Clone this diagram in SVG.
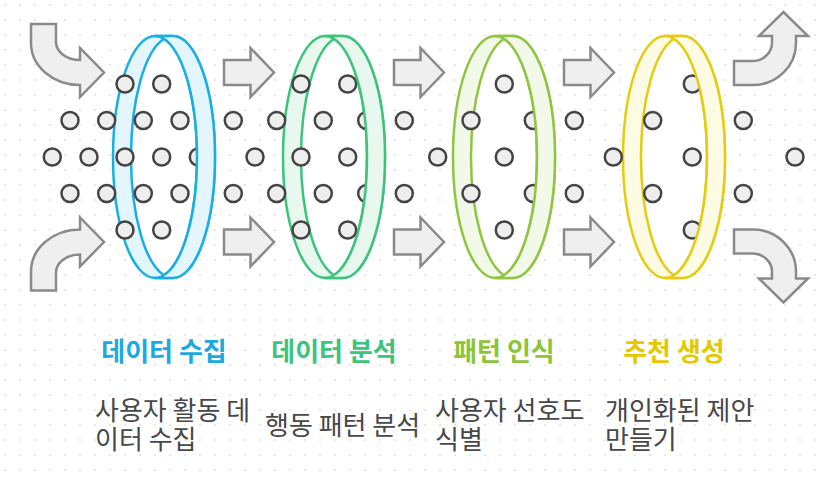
<svg xmlns="http://www.w3.org/2000/svg" xmlns:xlink="http://www.w3.org/1999/xlink" width="820" height="478" viewBox="0 0 820 478">
<style>
.dot{fill:#eeeeee;stroke:#444444;stroke-width:2.5}
.arr{fill:#efefef;stroke:#8a8a8a;stroke-width:2.5;stroke-linejoin:miter}
.title{font-family:"Noto Sans CJK KR","Noto Sans",sans-serif;font-weight:bold;font-size:26px;text-anchor:middle}
.body{font-family:"Noto Sans CJK KR","Noto Sans",sans-serif;font-size:26px;fill:#484848}
.r{stroke-width:2.5;stroke-linejoin:round}
.c1{stroke:#1aafe3}.f1{fill:#e3f6fd}
.c2{stroke:#3cc47c}.f2{fill:#e8f8ef}
.c3{stroke:#8ec63f}.f3{fill:#f3f9e8}
.c4{stroke:#e5cc10}.f4{fill:#fdfbe3}
</style>
<defs>
<pattern id="grid" width="15" height="15" patternUnits="userSpaceOnUse">
<circle cx="5" cy="5" r="1.1" fill="#e2e2e2"/>
</pattern>
<path id="sa" d="M0 -12.5 L26.5 -12.5 L26.5 -24.5 L50 0 L26.5 24.5 L26.5 12.5 L0 12.5 Z"/>
</defs>
<rect width="820" height="478" fill="#ffffff"/>
<rect width="820" height="478" fill="url(#grid)"/>

<g id="connectors">
<path class="arr" d="M31 24 L31 43 A49 42 0 0 0 80 85 L80 97 L104 72.5 L80 48 L80 60 A24 18 0 0 1 56 42 L56 24 Z"/>
<path class="arr" transform="translate(0,314.5) scale(1,-1)" d="M31 24 L31 43 A49 42 0 0 0 80 85 L80 97 L104 72.5 L80 48 L80 60 A24 18 0 0 1 56 42 L56 24 Z"/>
<use href="#sa" class="arr" x="224" y="72.5"/>
<use href="#sa" class="arr" x="394" y="72.5"/>
<use href="#sa" class="arr" x="564" y="72.5"/>
<use href="#sa" class="arr" x="224" y="242"/>
<use href="#sa" class="arr" x="394" y="242"/>
<use href="#sa" class="arr" x="564" y="242"/>
<path class="arr" d="M734 61 L752 61 A20 18 0 0 0 772 43 L772 36 L759 36 L783.5 12 L808 36 L796 36 L796 43 A43 42 0 0 1 753 85 L734 85 Z"/>
<path class="arr" transform="translate(0,314.5) scale(1,-1)" d="M734 61 L752 61 A20 18 0 0 0 772 43 L772 36 L759 36 L783.5 12 L808 36 L796 36 L796 43 A43 42 0 0 1 753 85 L734 85 Z"/>
</g>

<g id="ring-back">
<g class="r c1">
<path class="f1" d="M155 36 A42 121 0 0 0 155 278 L173 278 A42 121 0 0 0 173 36 Z"/>
<path fill="#ffffff" d="M164 38.8 A42 121 0 0 0 164 275.2 A42 121 0 0 0 164 38.8 Z"/>
</g>
<g class="r c2">
<path class="f2" d="M325 36 A42 121 0 0 0 325 278 L343 278 A42 121 0 0 0 343 36 Z"/>
<path fill="#ffffff" d="M334 38.8 A42 121 0 0 0 334 275.2 A42 121 0 0 0 334 38.8 Z"/>
</g>
<g class="r c3">
<path class="f3" d="M495 36 A42 121 0 0 0 495 278 L513 278 A42 121 0 0 0 513 36 Z"/>
<path fill="#ffffff" d="M504 38.8 A42 121 0 0 0 504 275.2 A42 121 0 0 0 504 38.8 Z"/>
</g>
<g class="r c4">
<path class="f4" d="M665 36 A42 121 0 0 0 665 278 L683 278 A42 121 0 0 0 683 36 Z"/>
<path fill="#ffffff" d="M674 38.8 A42 121 0 0 0 674 275.2 A42 121 0 0 0 674 38.8 Z"/>
</g>
</g>

<g id="particles">
<circle class="dot" cx="125" cy="84" r="8.5"/>
<circle class="dot" cx="161.7" cy="84" r="8.5"/>
<circle class="dot" cx="70" cy="120.5" r="8.5"/>
<circle class="dot" cx="106.7" cy="120.5" r="8.5"/>
<circle class="dot" cx="143.3" cy="120.5" r="8.5"/>
<circle class="dot" cx="180" cy="120.5" r="8.5"/>
<circle class="dot" cx="233.3" cy="120.5" r="8.5"/>
<circle class="dot" cx="52.3" cy="157" r="8.5"/>
<circle class="dot" cx="89" cy="157" r="8.5"/>
<circle class="dot" cx="125" cy="157" r="8.5"/>
<circle class="dot" cx="161.7" cy="157" r="8.5"/>
<circle class="dot" cx="198.3" cy="157" r="8.5"/>
<circle class="dot" cx="70" cy="193.5" r="8.5"/>
<circle class="dot" cx="106.7" cy="193.5" r="8.5"/>
<circle class="dot" cx="143.3" cy="193.5" r="8.5"/>
<circle class="dot" cx="180" cy="193.5" r="8.5"/>
<circle class="dot" cx="233.3" cy="193.5" r="8.5"/>
<circle class="dot" cx="125" cy="230" r="8.5"/>
<circle class="dot" cx="161.7" cy="230" r="8.5"/>

<circle class="dot" cx="301" cy="84" r="8.5"/>
<circle class="dot" cx="347.7" cy="84" r="8.5"/>
<circle class="dot" cx="276.7" cy="120.5" r="8.5"/>
<circle class="dot" cx="323.3" cy="120.5" r="8.5"/>
<circle class="dot" cx="366.7" cy="120.5" r="8.5"/>
<circle class="dot" cx="404.3" cy="120.5" r="8.5"/>
<circle class="dot" cx="255" cy="157" r="8.5"/>
<circle class="dot" cx="301" cy="157" r="8.5"/>
<circle class="dot" cx="347.7" cy="157" r="8.5"/>
<circle class="dot" cx="276.7" cy="193.5" r="8.5"/>
<circle class="dot" cx="323.3" cy="193.5" r="8.5"/>
<circle class="dot" cx="366.7" cy="193.5" r="8.5"/>
<circle class="dot" cx="404.3" cy="193.5" r="8.5"/>
<circle class="dot" cx="301" cy="230" r="8.5"/>
<circle class="dot" cx="347.7" cy="230" r="8.5"/>

<circle class="dot" cx="504.3" cy="84" r="8.5"/>
<circle class="dot" cx="471" cy="120.5" r="8.5"/>
<circle class="dot" cx="533.3" cy="120.5" r="8.5"/>
<circle class="dot" cx="574.3" cy="120.5" r="8.5"/>
<circle class="dot" cx="437.7" cy="157" r="8.5"/>
<circle class="dot" cx="504.3" cy="157" r="8.5"/>
<circle class="dot" cx="471" cy="193.5" r="8.5"/>
<circle class="dot" cx="533.3" cy="193.5" r="8.5"/>
<circle class="dot" cx="574.3" cy="193.5" r="8.5"/>
<circle class="dot" cx="504.3" cy="230" r="8.5"/>

<circle class="dot" cx="692.3" cy="84" r="8.5"/>
<circle class="dot" cx="652.7" cy="120.5" r="8.5"/>
<circle class="dot" cx="743.3" cy="120.5" r="8.5"/>
<circle class="dot" cx="613.3" cy="157" r="8.5"/>
<circle class="dot" cx="692.3" cy="157" r="8.5"/>
<circle class="dot" cx="795" cy="157" r="8.5"/>
<circle class="dot" cx="652.7" cy="193.5" r="8.5"/>
<circle class="dot" cx="743.3" cy="193.5" r="8.5"/>
<circle class="dot" cx="692.3" cy="230" r="8.5"/>
</g>

<g id="node-collect">
<path class="r c1 f1" d="M155 36 L173 36 A42 121 0 0 1 173 278 L155 278 A42 121 0 0 0 155 36 Z"/>
<text class="title" x="164" y="361" fill="#1ba9e1">데이터 수집</text>
<text class="body" x="95" y="420"><tspan x="95" y="420">사용자 활동 데</tspan><tspan x="95" y="448.5">이터 수집</tspan></text>
</g>
<g id="node-analyze">
<path class="r c2 f2" d="M325 36 L343 36 A42 121 0 0 1 343 278 L325 278 A42 121 0 0 0 325 36 Z"/>
<text class="title" x="334" y="361" fill="#3cc47c">데이터 분석</text>
<text class="body" x="265" y="435">행동 패턴 분석</text>
</g>
<g id="node-pattern">
<path class="r c3 f3" d="M495 36 L513 36 A42 121 0 0 1 513 278 L495 278 A42 121 0 0 0 495 36 Z"/>
<text class="title" x="504" y="361" fill="#8cc43a">패턴 인식</text>
<text class="body" x="435" y="420"><tspan x="435" y="420">사용자 선호도</tspan><tspan x="435" y="448.5">식별</tspan></text>
</g>
<g id="node-recommend">
<path class="r c4 f4" d="M665 36 L683 36 A42 121 0 0 1 683 278 L665 278 A42 121 0 0 0 665 36 Z"/>
<text class="title" x="674" y="361" fill="#e4c800">추천 생성</text>
<text class="body" x="605" y="420"><tspan x="605" y="420">개인화된 제안</tspan><tspan x="605" y="448.5">만들기</tspan></text>
</g>
</svg>
